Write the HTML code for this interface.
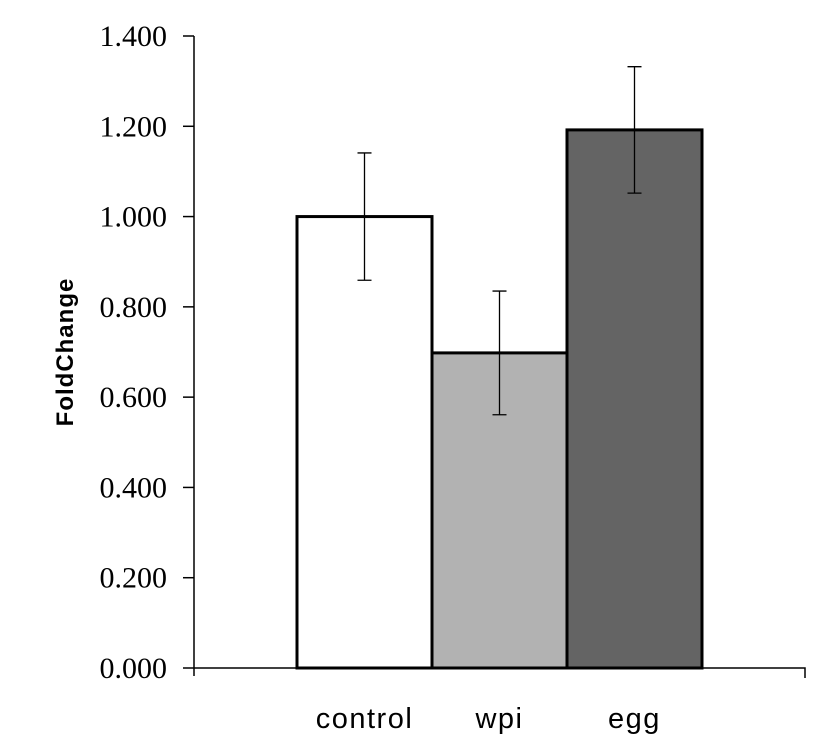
<!DOCTYPE html>
<html><head><meta charset="utf-8"><style>body{margin:0;background:#fff}svg{display:block}</style></head>
<body>
<svg width="840" height="747" viewBox="0 0 840 747" xmlns="http://www.w3.org/2000/svg">
<g id="plot"></g>
</svg>
<script>
const categories = ["control","wpi","egg"];
const values = [1.0, 0.698, 1.192];
const errors = [0.141, 0.137, 0.14];
const colors = ["#ffffff","#b2b2b2","#646464"];
const tickLabels = ["0.000","0.200","0.400","0.600","0.800","1.000","1.200","1.400"];
const tickValues = [0,0.2,0.4,0.6,0.8,1.0,1.2,1.4];

const NS="http://www.w3.org/2000/svg";
const g=document.getElementById('plot');
const x0=194,x1=805,y0=668,y1=36,ymax=1.4;
const yS=v=>y0-(v/ymax)*(y0-y1);
const barStart=297,barW=135;
const xS=i=>barStart+i*barW;
function mk(t,a){const e=document.createElementNS(NS,t);for(const k in a)e.setAttribute(k,a[k]);g.appendChild(e);return e;}

categories.forEach((c,i)=>{
  const r=mk('rect',{x:xS(i),y:yS(values[i]),width:barW,height:y0-yS(values[i]),fill:colors[i],stroke:'#000','stroke-width':3});
  
  
  const cx=xS(i)+barW/2,top=yS(values[i]+errors[i]),bot=yS(values[i]-errors[i]);
  const eg=mk('path',{d:`M${cx},${top}V${bot}M${cx-7},${top}H${cx+7}M${cx-7},${bot}H${cx+7}`,stroke:'#000','stroke-width':1.3,fill:'none'});
  
  
  const t=mk('text',{x:cx,y:728,'text-anchor':'middle','font-family':'"Liberation Sans",sans-serif','font-size':29,'letter-spacing':1.5,fill:'#000'});
  t.textContent=c;
  
  
});

const ax=mk('path',{d:`M${x0},${y1}V${y0+8}M${x0},${y0}H${x1}V${y0+10}`,stroke:'#000','stroke-width':1.5,fill:'none'});


tickValues.forEach((v,i)=>{
  const y=yS(v);
  const tk=mk('line',{x1:183,x2:x0,y1:y,y2:y,stroke:'#000','stroke-width':1.5});
  
  
  const t=mk('text',{x:167,y:y+10,'text-anchor':'end','font-family':'"Liberation Serif",serif','font-size':30,fill:'#000'});
  t.textContent=tickLabels[i];
  
  
});
const yt=mk('text',{x:0,y:0,transform:'translate(73,352) rotate(-90)','text-anchor':'middle','font-family':'"Liberation Sans",sans-serif','font-size':24,'font-weight':'bold','letter-spacing':1,fill:'#000'});
yt.textContent='FoldChange';


</script>
</body></html>
